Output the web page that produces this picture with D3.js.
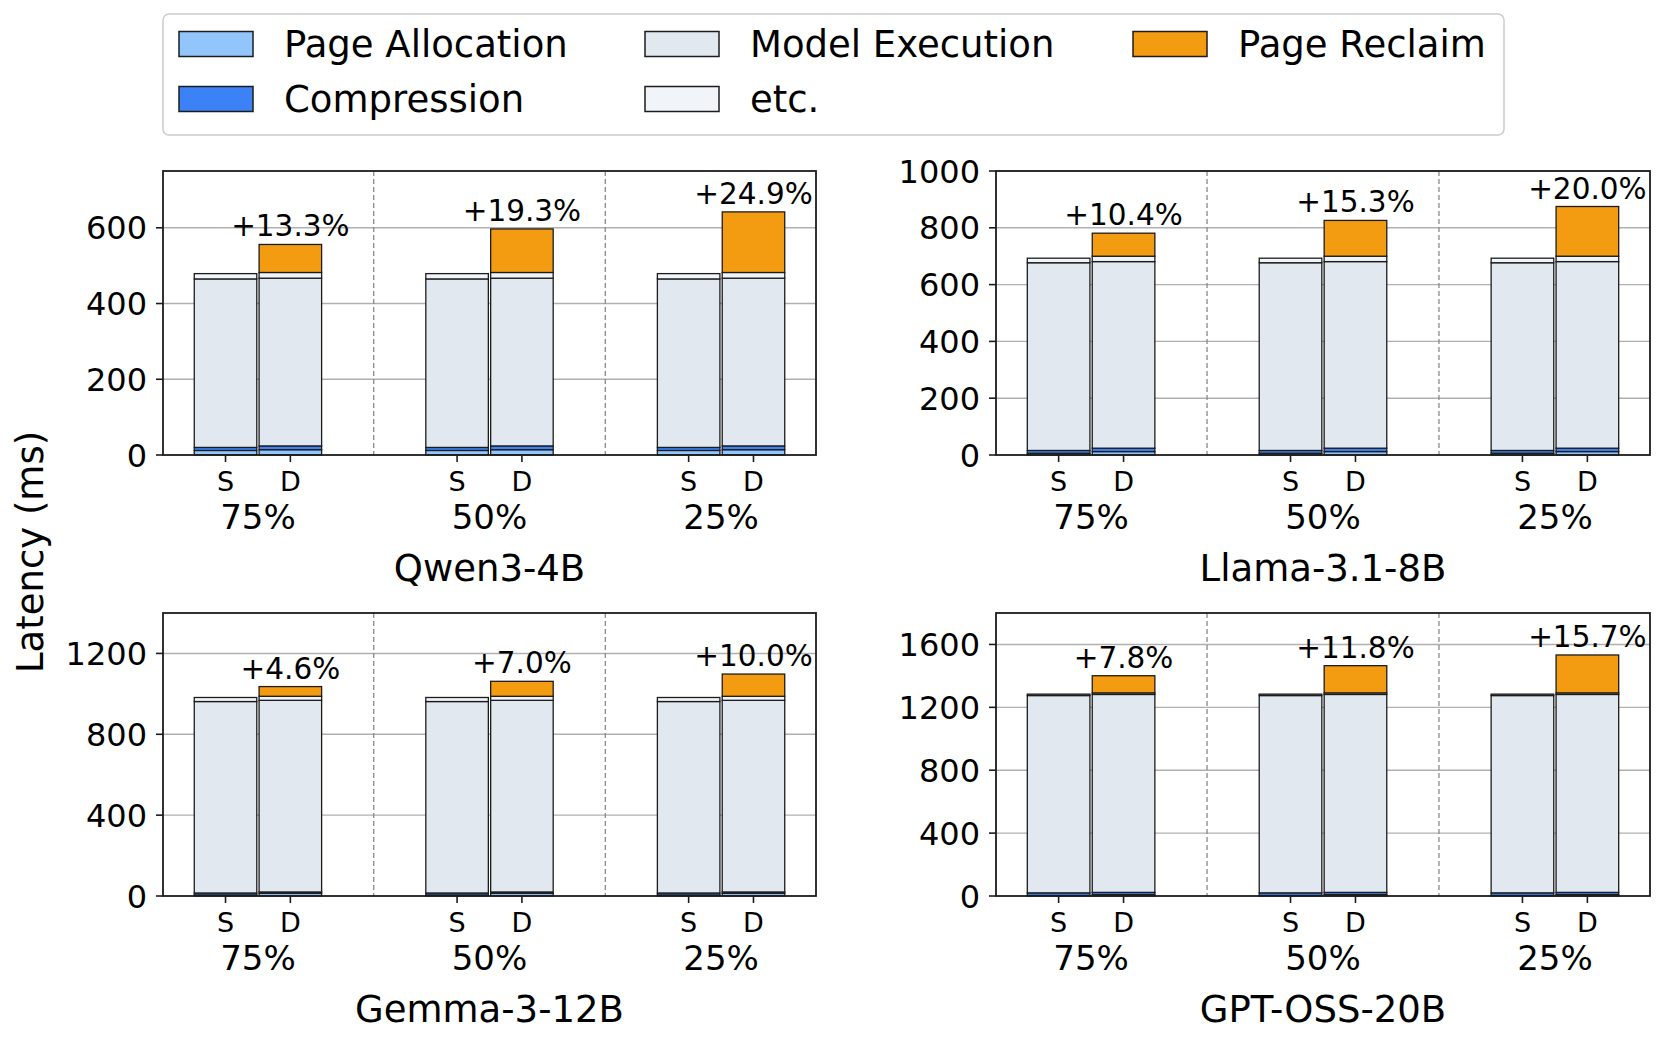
<!DOCTYPE html>
<html lang="en">
<head>
<meta charset="UTF-8">
<title>Latency breakdown</title>
<script src="https://d3js.org/d3.v7.min.js"></script>
<style>
  body { margin: 0; background: #fff; font-family: "DejaVu Sans", sans-serif; }
  svg text { font-family: "DejaVu Sans", sans-serif; fill: #000; }
</style>
</head>
<body>
<div id="chart"></div>
<script>
// ---- data ----
const models = ["Qwen3-4B", "Llama-3.1-8B", "Gemma-3-12B", "GPT-OSS-20B"];
const ratios = ["75%", "50%", "25%"];
const kinds = ["S", "D"];
const components = ["Page Allocation", "Compression", "Model Execution", "etc.", "Page Reclaim"];

// per model (same for every ratio)
const allocS = [12, 6, 5, 3];
const allocD = [14, 12, 13, 9];
const compS = [8, 10, 10, 17];
const compD = [10, 12, 7, 14];
const modelS = [445, 661, 947, 1255];
const modelD = [443, 657, 948, 1259];
const etcS = [14, 16, 20, 9];
const etcD = [15, 19, 20, 10];
// page reclaim on D bars, per model x ratio
const reclaim = [
  [74, 115, 160],
  [81, 126, 175],
  [48, 74, 110],
  [109, 173, 241]
];
const overheadLabels = [
  ["+13.3%", "+19.3%", "+24.9%"],
  ["+10.4%", "+15.3%", "+20.0%"],
  ["+4.6%", "+7.0%", "+10.0%"],
  ["+7.8%", "+11.8%", "+15.7%"]
];
const yMax = [750, 1000, 1400, 1800];
const yTicks = [
  [0, 200, 400, 600],
  [0, 200, 400, 600, 800, 1000],
  [0, 400, 800, 1200],
  [0, 400, 800, 1200, 1600]
];

const colors = {
  "Page Allocation": "#93c5fd",
  "Compression": "#3b82f6",
  "Model Execution": "#e2e8f0",
  "etc.": "#f1f5f9",
  "Page Reclaim": "#f39c12"
};
const edge = "#1c1c1c";

const width = 1667, height = 1044;
const svg = d3.select("#chart").append("svg")
  .attr("width", width).attr("height", height);

// panel frames
const cols = [[163, 816], [996, 1650]];
const rows = [[171, 455], [613, 896]];

const keys = ["alloc", "comp", "model", "etc", "reclaim"];

models.forEach((name, m) => {
  const [x0, x1] = cols[m % 2];
  const [yTop, yBot] = rows[Math.floor(m / 2)];

  const x = d3.scaleLinear().domain([-0.41, 2.41]).range([x0, x1]);
  const y = d3.scaleLinear().domain([0, yMax[m]]).range([yBot, yTop]);

  const g = svg.append("g");

  // grid
  g.selectAll(".grid").data(yTicks[m].filter(t => t > 0)).enter().append("line")
    .attr("x1", x0).attr("x2", x1)
    .attr("y1", d => y(d)).attr("y2", d => y(d))
    .attr("stroke", "#b0b0b0").attr("stroke-width", 1.4);

  // group separators
  g.selectAll(".sep").data([0.5, 1.5]).enter().append("line")
    .attr("x1", d => x(d)).attr("x2", d => x(d))
    .attr("y1", yTop).attr("y2", yBot)
    .attr("stroke", "#8a8a8a").attr("stroke-width", 1.3)
    .attr("stroke-dasharray", "5,3");

  // rows for stack
  const barRows = [];
  ratios.forEach((r, ri) => {
    kinds.forEach((k, ki) => {
      barRows.push({
        pos: ri + (ki === 0 ? -0.14 : 0.14),
        ri, k,
        alloc: k === "S" ? allocS[m] : allocD[m],
        comp: k === "S" ? compS[m] : compD[m],
        model: k === "S" ? modelS[m] : modelD[m],
        etc: k === "S" ? etcS[m] : etcD[m],
        reclaim: k === "S" ? 0 : reclaim[m][ri]
      });
    });
  });
  const series = d3.stack().keys(keys)(barRows);
  const bw = x(0.27) - x(0);

  series.forEach((s, si) => {
    g.selectAll(null).data(s.filter(d => d[1] - d[0] > 0)).enter().append("rect")
      .attr("x", d => x(d.data.pos) - bw / 2)
      .attr("width", bw)
      .attr("y", d => y(d[1]))
      .attr("height", d => y(d[0]) - y(d[1]))
      .attr("fill", colors[components[si]])
      .attr("stroke", edge).attr("stroke-width", 1.3);
  });

  // overhead labels above D bars
  const top = series[series.length - 1];
  g.selectAll(".ov").data(top.filter(d => d.data.k === "D")).enter().append("text")
    .attr("x", d => x(d.data.pos))
    .attr("y", d => y(d[1]) - 8)
    .attr("text-anchor", "middle")
    .attr("font-size", 29.5)
    .text(d => overheadLabels[m][d.data.ri]);

  // spines
  g.append("rect").attr("x", x0).attr("y", yTop)
    .attr("width", x1 - x0).attr("height", yBot - yTop)
    .attr("fill", "none").attr("stroke", edge).attr("stroke-width", 1.8);

  // y ticks
  yTicks[m].forEach(t => {
    g.append("line").attr("x1", x0 - 7).attr("x2", x0)
      .attr("y1", y(t)).attr("y2", y(t))
      .attr("stroke", edge).attr("stroke-width", 1.6);
    g.append("text").attr("x", x0 - 16).attr("y", y(t))
      .attr("dy", "0.36em").attr("text-anchor", "end")
      .attr("font-size", 32).text(t);
  });

  // x ticks S / D
  barRows.forEach(d => {
    g.append("line").attr("x1", x(d.pos)).attr("x2", x(d.pos))
      .attr("y1", yBot).attr("y2", yBot + 7)
      .attr("stroke", edge).attr("stroke-width", 1.6);
    g.append("text").attr("x", x(d.pos)).attr("y", yBot + 36)
      .attr("text-anchor", "middle").attr("font-size", 27).text(d.k);
  });
  ratios.forEach((r, ri) => {
    g.append("text").attr("x", x(ri)).attr("y", yBot + 74)
      .attr("text-anchor", "middle").attr("font-size", 34).text(r);
  });

  // panel title
  g.append("text").attr("x", (x0 + x1) / 2).attr("y", yBot + 126)
    .attr("text-anchor", "middle").attr("font-size", 37).text(name);
});

// y label
svg.append("text")
  .attr("transform", "translate(43,552) rotate(-90)")
  .attr("text-anchor", "middle").attr("font-size", 37)
  .text("Latency (ms)");

// legend
const legend = svg.append("g");
legend.append("rect").attr("x", 163).attr("y", 14)
  .attr("width", 1341).attr("height", 121).attr("rx", 6)
  .attr("fill", "#fff").attr("stroke", "#cccccc").attr("stroke-width", 1.5);

const legendCols = [179, 645, 1133];
const legendRows = [44, 99];
components.forEach((c, i) => {
  const lx = legendCols[Math.floor(i / 2)];
  const ly = legendRows[i % 2];
  legend.append("rect").attr("x", lx).attr("y", ly - 12.5)
    .attr("width", 74).attr("height", 25)
    .attr("fill", colors[c]).attr("stroke", edge).attr("stroke-width", 1.5);
  legend.append("text").attr("x", lx + 105).attr("y", ly)
    .attr("dy", "0.36em").attr("font-size", 37).text(c);
});
</script>
</body>
</html>
